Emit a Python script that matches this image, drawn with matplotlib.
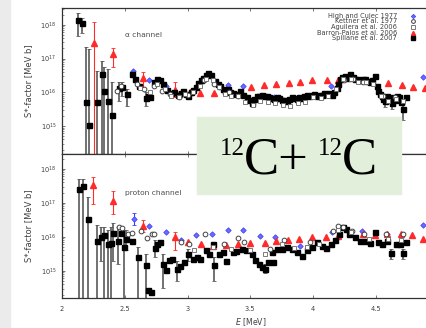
import numpy as np
import matplotlib.pyplot as plt
from matplotlib.patches import Rectangle
from matplotlib.lines import Line2D

plt.rcParams['font.family'] = ['DejaVu Sans']

# ---------------- alpha channel (log10 of S* in MeV b) ----------------
sp_a_E = [2.13, 2.157, 2.19, 2.215, 2.276, 2.316, 2.337, 2.364, 2.40, 2.457, 2.48, 2.515,
          2.555, 2.58, 2.616, 2.668, 2.685, 2.70, 2.735, 2.755, 2.78, 2.807, 2.834, 2.866,
          2.89, 2.927, 2.95, 2.967, 2.99, 3.007, 3.03, 3.046, 3.07, 3.086, 3.106, 3.126,
          3.146, 3.166, 3.19, 3.219, 3.24, 3.259, 3.28, 3.299, 3.32, 3.34, 3.365, 3.39,
          3.418, 3.445, 3.472, 3.49, 3.511, 3.531, 3.551, 3.571, 3.591, 3.611, 3.631, 3.651,
          3.671, 3.691, 3.711, 3.73, 3.75, 3.77, 3.79, 3.81, 3.83, 3.85, 3.87, 3.89, 3.91,
          3.93, 3.95, 3.97, 3.99, 4.01, 4.03, 4.05, 4.069, 4.09, 4.109, 4.13, 4.149, 4.17,
          4.189, 4.20, 4.215, 4.235, 4.255, 4.275, 4.295, 4.315, 4.335, 4.355, 4.375, 4.395,
          4.414, 4.434, 4.454, 4.474, 4.494, 4.51, 4.52, 4.534, 4.547, 4.56, 4.574, 4.587,
          4.60, 4.614, 4.627, 4.64, 4.653, 4.67, 4.688, 4.705, 4.72, 4.741]
sp_a_S = [18.13, 18.06, 15.70, 15.04, 15.70, 16.53, 16.05, 15.75, 15.34, 16.13, 16.15, 15.95,
          16.55, 16.38, 16.18, 15.82, 15.90, 15.86, 16.30, 16.38, 16.35, 16.25, 16.08, 15.98,
          16.02, 15.91, 15.97, 16.05, 15.95, 15.88, 16.00, 16.08, 16.15, 16.28, 16.35, 16.43,
          16.50, 16.58, 16.50, 16.33, 16.25, 16.18, 16.10, 16.05, 16.10, 16.00, 15.98, 15.95,
          16.03, 15.92, 15.85, 15.78, 15.69, 15.80, 15.88, 15.90, 15.93, 15.88, 15.90, 15.86,
          15.83, 15.80, 15.86, 15.82, 15.78, 15.76, 15.74, 15.80, 15.85, 15.83, 15.81, 15.86, 15.83,
          15.88, 15.91, 15.90, 15.93, 15.96, 15.90, 15.93, 15.91, 15.97, 15.95, 15.98, 15.93, 16.02,
          16.13, 16.25, 16.38, 16.45, 16.48, 16.42, 16.53, 16.45, 16.38, 16.40, 16.35, 16.40,
          16.38, 16.33, 16.31, 16.36, 16.48, 16.20, 16.03, 15.95, 15.88, 15.80, 15.74, 15.90,
          15.83, 15.78, 15.69, 15.85, 15.78, 15.90, 15.86, 15.70, 15.49, 15.85]
# error bars drawn for Spillane alpha data: energy, lower end, upper end
sp_a_errE = [2.13, 2.157, 2.19, 2.215, 2.276, 2.316, 2.337, 2.364, 2.40, 2.457, 2.48, 2.515,
             2.668, 4.574, 4.627, 4.72]
sp_a_lo = [17.67, 17.75, 13.5, 13.5, 13.5, 13.5, 13.5, 13.5, 13.5, 15.75, 15.90, 15.60,
           15.60, 15.55, 15.50, 15.19]
sp_a_hi = [18.36, 18.20, 17.34, 17.27, 16.63, 16.92, 16.75, 16.70, 16.30, 16.30, 16.30, 16.10,
           16.00, 15.90, 15.85, 15.65]

ag_a_E = [2.62, 2.70, 2.76, 2.82, 2.87, 2.93, 2.98, 3.04, 3.10, 3.15, 3.20, 3.25, 3.30, 3.35,
          3.40, 3.46, 3.52, 3.58, 3.64, 3.70, 3.76, 3.82, 3.88, 3.94, 4.00, 4.06, 4.12, 4.18,
          4.24, 4.30, 4.36, 4.42, 4.48, 4.54, 4.60, 4.66, 4.72]
ag_a_S = [16.12, 16.00, 16.25, 16.10, 15.90, 15.85, 15.95, 16.00, 16.20, 16.40, 16.35, 16.15,
          15.95, 15.90, 15.90, 15.70, 15.62, 15.75, 15.72, 15.68, 15.62, 15.60, 15.68, 15.72,
          15.85, 15.82, 15.90, 16.10, 16.40, 16.40, 16.30, 16.30, 16.25, 15.90, 15.75, 15.80, 15.75]

ke_a_E = [2.44, 2.47, 2.60, 2.65, 2.73, 2.80, 2.86, 2.93, 3.00, 3.13, 3.21, 3.33, 3.40,
          4.25, 4.32, 4.40, 4.56, 4.65]
ke_a_S = [16.05, 16.20, 16.25, 16.10, 16.20, 16.05, 15.95, 15.85, 15.92, 16.35, 16.25, 16.00,
          15.90, 16.35, 16.38, 16.30, 15.90, 15.85]

hc_a_E = [2.568, 2.69, 2.83, 2.94, 3.325, 3.44, 3.69, 4.145, 4.88]
hc_a_S = [16.62, 16.35, 16.20, 15.88, 16.22, 16.18, 15.87, 16.18, 16.45]

bp_a_E = [2.257, 2.409, 2.648, 2.90, 3.02, 3.10, 3.21, 3.506, 3.606, 3.705, 3.806, 3.898,
          3.996, 4.108, 4.203, 4.598, 4.709, 4.797, 4.89]
bp_a_S = [17.46, 17.14, 16.43, 16.08, 16.00, 15.97, 15.97, 16.16, 16.22, 16.25, 16.29, 16.32,
          16.35, 16.35, 16.35, 16.29, 16.22, 16.16, 16.13]
bp_a_errE = [2.257, 2.409, 2.648, 2.90]
bp_a_lo = [13.5, 16.76, 16.10, 15.85]
bp_a_hi = [18.07, 17.31, 16.60, 16.30]

# ---------------- proton channel ----------------
sp_p_E = [2.135, 2.165, 2.21, 2.276, 2.308, 2.335, 2.369, 2.393, 2.404, 2.449, 2.468, 2.494,
          2.51, 2.555, 2.608, 2.669, 2.688, 2.706, 2.741, 2.76, 2.78, 2.807, 2.829, 2.855,
          2.88, 2.914, 2.94, 2.972, 3.006, 3.04, 3.073, 3.10, 3.145, 3.175, 3.20, 3.211,
          3.25, 3.28, 3.31, 3.36, 3.39, 3.432, 3.47, 3.511, 3.54, 3.57, 3.595, 3.618, 3.645,
          3.67, 3.685, 3.71, 3.75, 3.79, 3.83, 3.87, 3.91, 3.95, 3.99, 4.03, 4.07, 4.10,
          4.14, 4.175, 4.21, 4.237, 4.26, 4.29, 4.335, 4.375, 4.415, 4.455, 4.494, 4.52,
          4.55, 4.59, 4.619, 4.66, 4.695, 4.715, 4.74]
sp_p_S = [17.41, 17.49, 16.53, 15.87, 16.01, 16.06, 15.79, 15.83, 16.12, 15.87, 16.12, 15.70,
          15.94, 15.87, 15.42, 15.16, 14.44, 14.37, 15.67, 15.78, 15.85, 15.21, 15.03, 15.32,
          15.35, 15.06, 15.13, 15.26, 15.50, 15.35, 15.40, 15.35, 15.60, 15.50, 15.79, 15.16,
          15.50, 15.55, 15.30, 15.55, 15.58, 15.65, 15.62, 15.50, 15.33, 15.20, 15.12, 15.06, 15.25,
          15.55, 15.25, 15.65, 15.65, 15.71, 15.65, 15.55, 15.45, 15.60, 15.70, 15.84, 15.74, 15.67,
          15.80, 15.91, 16.09, 16.29, 16.24, 16.09, 15.99, 15.87, 15.89, 15.81, 16.14, 15.84,
          15.80, 15.87, 15.52, 15.80, 15.78, 15.52, 15.86]
sp_p_errE = [2.135, 2.165, 2.21, 2.276, 2.308, 2.335, 2.369, 2.393, 2.404, 2.449, 2.494, 2.51,
             2.608, 2.669, 2.741, 2.807, 2.914, 3.006, 3.211, 3.618, 4.619, 4.715]
sp_p_lo = [13.5, 13.5, 13.5, 13.5, 15.30, 13.5, 13.5, 13.5, 15.30, 15.20, 13.5, 15.60,
           13.5, 13.5, 15.40, 14.50, 14.70, 15.30, 14.70, 14.95, 15.35, 15.35]
sp_p_hi = [17.70, 17.70, 17.17, 16.35, 16.30, 16.30, 16.20, 16.30, 16.40, 16.30, 16.20, 16.20,
           15.70, 15.50, 15.90, 15.50, 15.30, 15.65, 15.40, 15.20, 15.65, 15.65]

ag_p_E = [3.05, 3.20, 3.35, 3.50, 3.62, 3.75, 3.85, 3.95, 4.05, 4.20, 4.30, 4.45, 4.60, 4.70]
ag_p_S = [15.60, 15.70, 15.65, 15.60, 15.50, 15.78, 15.68, 15.70, 15.80, 16.20, 16.15, 15.95,
          15.95, 15.90]

ke_p_E = [2.457, 2.476, 2.528, 2.555, 2.627, 2.68, 2.715, 2.737, 2.95, 3.01, 3.14, 3.29,
          3.40, 3.45, 3.66, 3.77, 3.98, 4.16, 4.20, 4.24, 4.31, 4.41, 4.58, 4.72]
ke_p_S = [16.30, 16.25, 16.09, 16.10, 16.17, 15.97, 16.09, 16.09, 15.85, 15.80, 16.07, 15.80,
          15.97, 15.84, 15.65, 15.92, 15.84, 16.16, 16.33, 16.30, 16.16, 16.09, 16.07, 16.09]

hc_p_E = [2.574, 2.696, 2.829, 2.946, 3.068, 3.193, 3.325, 3.44, 3.578, 3.697, 3.896, 4.149,
          4.388, 4.587, 4.879]
hc_p_S = [16.53, 16.33, 16.14, 15.91, 16.05, 16.08, 16.19, 16.21, 16.04, 15.99, 15.74, 16.14,
          16.16, 16.09, 16.36]
hc_p_errE = [2.574]
hc_p_lo = [16.35]
hc_p_hi = [16.70]

bp_p_E = [2.25, 2.404, 2.648, 2.90, 3.007, 3.105, 3.206, 3.31, 3.405, 3.50, 3.62, 3.705, 3.80,
          3.89, 3.99, 4.10, 4.20, 4.40, 4.495, 4.59, 4.70, 4.79, 4.88]
bp_p_S = [17.54, 17.07, 16.33, 15.99, 15.84, 15.79, 15.74, 15.76, 15.79, 15.82, 15.82, 15.87,
          15.91, 15.94, 16.00, 16.01, 16.04, 16.09, 16.06, 16.07, 16.07, 16.06, 15.94]
bp_p_errE = [2.25, 2.404, 2.648, 2.90]
bp_p_lo = [16.97, 16.68, 16.15, 15.60]
bp_p_hi = [17.76, 17.35, 16.50, 16.15]

labels = ['High and Cujec 1977', 'Kettner et al. 1977', 'Aguilera et al. 2006',
          'Barron-Palos et al. 2006', 'Spillane et al. 2007']

RED = '#ff2a2a'
BLUE = '#3c3cff'
styles = [dict(marker='D', mfc='#6a6aff', mec=BLUE, mew=0.5, ms=2.8),
          dict(marker='o', mfc='white', mec='0.25', mew=0.7, ms=3.4),
          dict(marker='s', mfc='white', mec='0.4', mew=0.6, ms=3.2),
          dict(marker='^', mfc=RED, mec=RED, ms=3.8),
          dict(marker='s', mfc='black', mec='black', ms=3.6)]


def p(v):
    return 10 ** np.array(v)


def err(ax, E, lo, hi, color, lw, cap):
    E = np.array(E)
    lo = p(lo)
    hi = p(hi)
    mid = np.sqrt(lo * hi)
    ax.errorbar(E, mid, yerr=[mid - lo, hi - mid], fmt='none', ecolor=color,
                elinewidth=lw, capsize=cap, capthick=0.6, zorder=2)


# Figure size in inches at 100 dpi
fig = plt.figure(figsize=(4.26, 3.28), dpi=100)
fig.add_artist(Rectangle((0, 0), 10 / 426, 1, transform=fig.transFigure,
                         color='#ebebeb', zorder=-5))

ax1 = fig.add_axes([62 / 426, 174 / 328, 376.5 / 426, 146 / 328])
ax2 = fig.add_axes([62 / 426, 30 / 328, 376.5 / 426, 144 / 328])

sets = [
    (ax1, [hc_a_E, ke_a_E, ag_a_E, bp_a_E, sp_a_E], [hc_a_S, ke_a_S, ag_a_S, bp_a_S, sp_a_S]),
    (ax2, [hc_p_E, ke_p_E, ag_p_E, bp_p_E, sp_p_E], [hc_p_S, ke_p_S, ag_p_S, bp_p_S, sp_p_S]),
]
zorders = [3, 5, 5, 3, 4]
for ax, Es, Ss in sets:
    for E, S, st, z in zip(Es, Ss, styles, zorders):
        ax.plot(E, p(S), ls='none', zorder=z, **st)

err(ax1, sp_a_errE, sp_a_lo, sp_a_hi, '0.35', 1.2, 1.3)
err(ax1, bp_a_errE, bp_a_lo, bp_a_hi, RED, 0.8, 1.3)
err(ax2, sp_p_errE, sp_p_lo, sp_p_hi, '0.35', 1.2, 1.3)
err(ax2, bp_p_errE, bp_p_lo, bp_p_hi, RED, 0.8, 1.3)
err(ax2, hc_p_errE, hc_p_lo, hc_p_hi, BLUE, 0.8, 1.3)

for ax, lims in [(ax1, (10 ** 14.17, 10 ** 18.5)), (ax2, (10 ** 14.2, 10 ** 18.44))]:
    ax.set_yscale('log')
    ax.set_ylim(*lims)
    ax.set_xlim(2, 5)
    ax.set_xticks([2, 2.5, 3, 3.5, 4, 4.5])
    ax.set_yticks([1e15, 1e16, 1e17, 1e18])
    ax.tick_params(which='both', direction='in', top=True, right=True,
                   labelsize=4.8, colors='0.25', width=0.5, length=2.5, pad=4)
    ax.tick_params(axis='x', pad=6)
    ax.tick_params(which='minor', length=1.2, width=0.4)
    for s in ax.spines.values():
        s.set_linewidth(0.9)
        s.set_color('0.2')
    ax.set_ylabel('S*-factor [MeV b]', fontsize=6.0, color='0.25', labelpad=5)

ax1.tick_params(labelbottom=False)
ax2.set_xticklabels(['2', '2.5', '3', '3.5', '4', '4.5'])
ax2.set_xlabel('$E$ [MeV]', fontsize=5.6, color='0.25', labelpad=3)

ax1.text(2.5, 10 ** 17.7, '\u03b1 channel', fontsize=5.4, color='0.3', va='center')
ax2.text(2.5, 10 ** 17.28, 'proton channel', fontsize=5.4, color='0.3', va='center')

# legend, right aligned text with the marker after it
for i, (lab, st) in enumerate(zip(labels, styles)):
    y = 1 - (15.7 + 5.65 * i) / 328
    fig.text(397 / 426, y, lab, fontsize=4.8, color='0.25', ha='right', va='center')
    fig.add_artist(Line2D([413 / 426], [y], transform=fig.transFigure, ls='none',
                          **dict(st, ms=st['ms'] * 0.8)))

# green title box sitting over the two panels
fig.add_artist(Rectangle((197 / 426, 1 - 194 / 328), 204 / 426, 77 / 328,
                         transform=fig.transFigure, color='#e2efda', zorder=10))
serif = dict(family='Liberation Serif', va='baseline', ha='left', zorder=11, color='black')
fig.text(220 / 426, 1 - 155 / 328, '12', fontsize=18, **serif)
fig.text(244 / 426, 1 - 173 / 328, 'C+', fontsize=38, **serif)
fig.text(318 / 426, 1 - 155 / 328, '12', fontsize=18, **serif)
fig.text(342 / 426, 1 - 173 / 328, 'C', fontsize=38, **serif)

plt.savefig('out.png', dpi=100)
